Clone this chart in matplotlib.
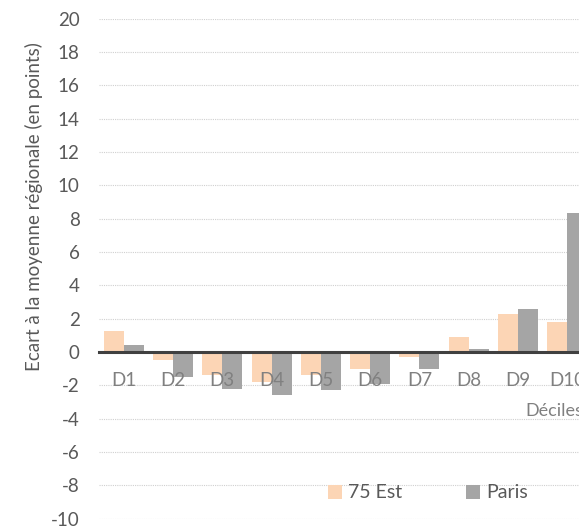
import numpy as np
import matplotlib
matplotlib.use('Agg')
import matplotlib.pyplot as plt

plt.rcParams['font.family'] = ['Lato', 'DejaVu Sans']

# deciles and gap to the regional mean (points)
deciles = ['D1', 'D2', 'D3', 'D4', 'D5', 'D6', 'D7', 'D8', 'D9', 'D10']
est75 = [1.25, -0.5, -1.4, -1.8, -1.4, -1.0, -0.3, 0.9, 2.3, 1.8]
paris = [0.4, -1.5, -2.2, -2.6, -2.3, -1.9, -1.0, 0.2, 2.6, 8.35]
yticks = list(range(-10, 21, 2))

W, H = 579, 529
fig = plt.figure(figsize=(W / 100, H / 100), dpi=100)
# plot area is wider than the picture: right side is cropped like the original
ax = fig.add_axes([99 / W, 1 - 518.5 / H, (592 - 99) / W, 500 / H])

x = np.arange(len(deciles))
w = 0.405
ax.bar(x - w / 2, est75, width=w, color='#FCD5B5', label='75 Est', zorder=2)
ax.bar(x + w / 2, paris, width=w, color='#A5A5A5', label='Paris', zorder=2)

ax.set_xlim(-0.5, len(deciles) - 0.5)
ax.set_ylim(-10, 20)
ax.set_yticks(yticks)
ax.set_yticklabels([str(v) for v in yticks], fontsize=13.5, color='#595959')
ax.yaxis.grid(True, color='#D0D0D0', linestyle=(0, (1, 1)), linewidth=0.8, zorder=0)
ax.set_axisbelow(True)

for s in ['top', 'right', 'left']:
    ax.spines[s].set_visible(False)
ax.spines['bottom'].set_position(('data', 0))
ax.spines['bottom'].set_color('#404040')
ax.spines['bottom'].set_linewidth(2.2)
ax.spines['bottom'].set_zorder(3)

# category labels sit over the bars, as in the original
ax.set_xticks([])
for i, lab in enumerate(deciles):
    ax.text(x[i], -1.7, lab, ha='center', va='center', fontsize=13.5,
            color='#808080', zorder=5, clip_on=False)
ax.tick_params(axis='y', length=0, pad=14)

fig.text(34 / W, 1 - 207 / H, 'Ecart à la moyenne régionale (en points)',
         rotation=90, ha='center', va='center', fontsize=13.5, color='#595959')
fig.text(525 / W, 1 - 411 / H, 'Déciles', ha='left', va='center',
         fontsize=13, color='#808080')

leg = ax.legend(loc='center', bbox_to_anchor=(428 / W, 1 - 493 / H),
                bbox_transform=fig.transFigure, ncol=2, frameon=False,
                fontsize=14, handlelength=0.72, handleheight=0.72,
                columnspacing=3.3, handletextpad=0.3)
for t in leg.get_texts():
    t.set_color('#595959')

fig.savefig('out.png', dpi=100)
